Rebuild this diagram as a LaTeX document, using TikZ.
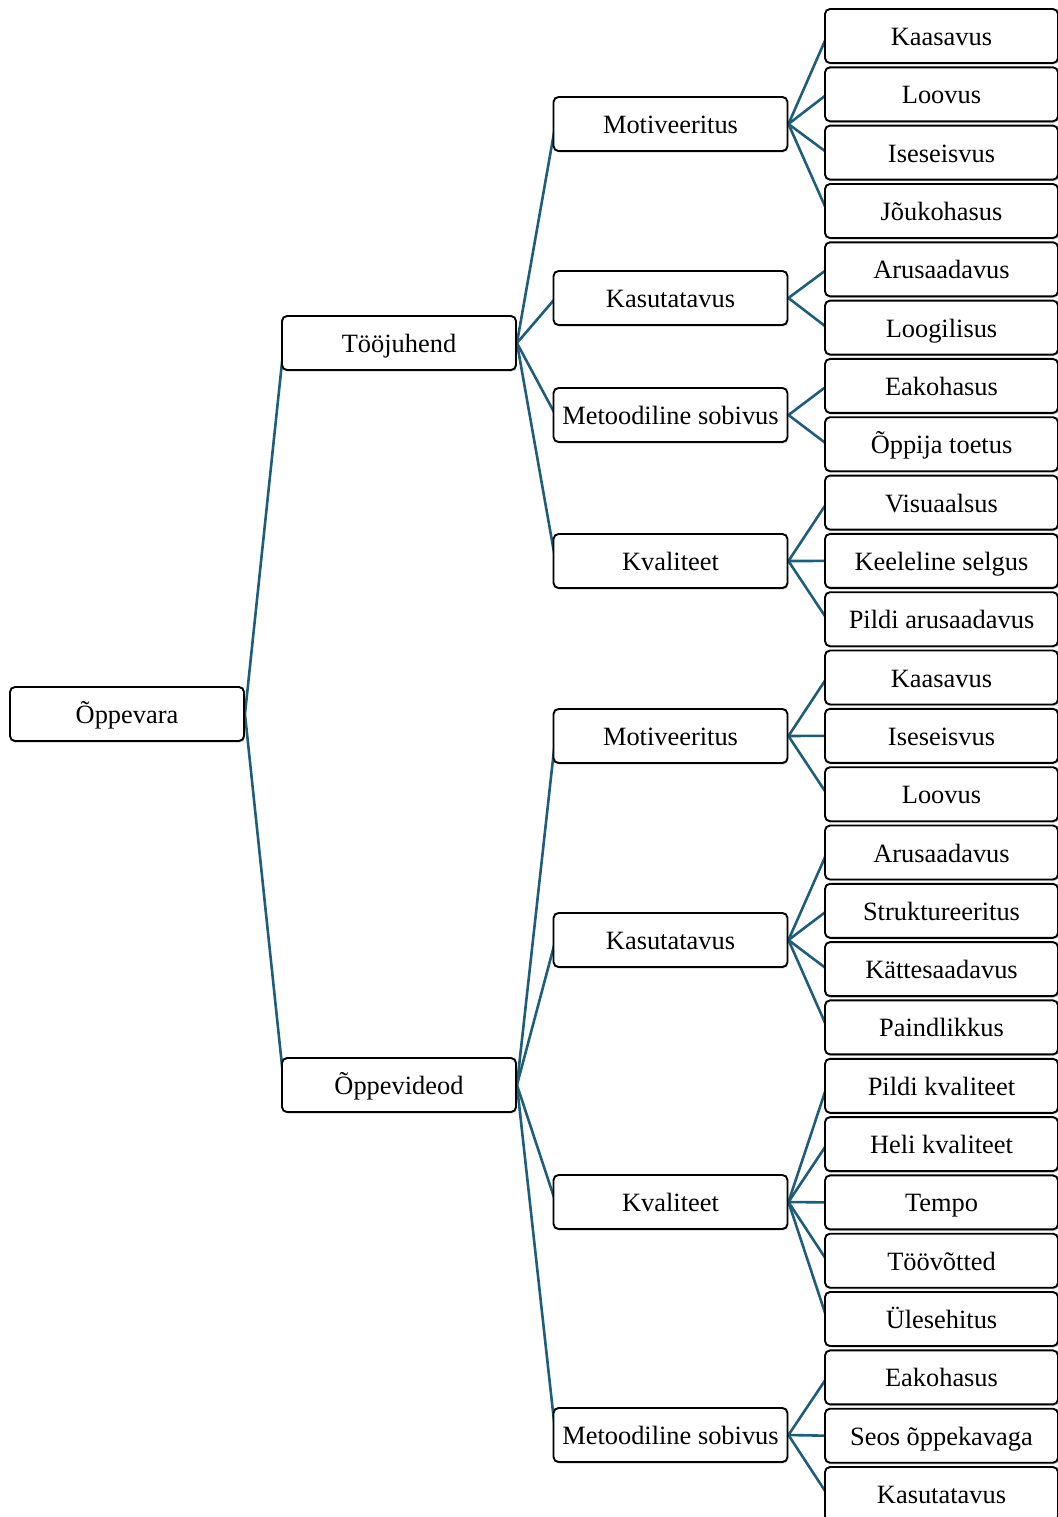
\documentclass[tikz,border=0pt]{standalone}
\usepackage{fontspec}
\setmainfont{Liberation Serif}
\usepackage{xcolor}
\usetikzlibrary{backgrounds,shadows}

\definecolor{linkblue}{RGB}{31,94,122}
\tikzset{
    box/.style={draw, rectangle, rounded corners=2.5pt, line width=0.95pt, fill=white,
        minimum width=117pt, minimum height=27pt, inner sep=1pt,
        text height=11pt, text depth=1.5pt,
        font=\fontsize{13.2}{15}\selectfont,
        drop shadow={shadow xshift=0.4pt, shadow yshift=-0.8pt, opacity=0.35}},
    leaf/.style={box, minimum width=116.5pt},
    link/.style={linkblue, line width=1.3pt}
}

\begin{document}
\begin{tikzpicture}[x=0.5pt, y=-0.5pt]
    \useasboundingbox (0,0) rectangle (1058,1517);

    % Root
    \node[box] (ov) at (127,714) {Õppevara};

    % Level 1
    \node[box] (tj) at (399,343) {Tööjuhend};
    \node[box] (vid) at (399,1085) {Õppevideod};

    % Level 2 - Tööjuhend
    \node[box] (mot1) at (670.5,124) {Motiveeritus};
    \node[box] (kas1) at (670.5,298) {Kasutatavus};
    \node[box] (met1) at (670.5,415) {Metoodiline sobivus};
    \node[box] (kva1) at (670.5,561) {Kvaliteet};

    % Level 2 - Õppevideod
    \node[box] (mot2) at (670.5,736) {Motiveeritus};
    \node[box] (kas2) at (670.5,940) {Kasutatavus};
    \node[box] (kva2) at (670.5,1202) {Kvaliteet};
    \node[box] (met2) at (670.5,1435) {Metoodiline sobivus};

    % Level 3 - Tööjuhend
    \node[leaf] (l0) at (941.5,36) {Kaasavus};
    \node[leaf] (l1) at (941.5,94.3) {Loovus};
    \node[leaf] (l2) at (941.5,152.6) {Iseseisvus};
    \node[leaf] (l3) at (941.5,211) {Jõukohasus};
    \node[leaf] (l4) at (941.5,269.3) {Arusaadavus};
    \node[leaf] (l5) at (941.5,327.6) {Loogilisus};
    \node[leaf] (l6) at (941.5,385.9) {Eakohasus};
    \node[leaf] (l7) at (941.5,444.2) {Õppija toetus};
    \node[leaf] (l8) at (941.5,502.6) {Visuaalsus};
    \node[leaf] (l9) at (941.5,560.9) {Keeleline selgus};
    \node[leaf] (l10) at (941.5,619.2) {Pildi arusaadavus};

    % Level 3 - Õppevideod
    \node[leaf] (l11) at (941.5,677.5) {Kaasavus};
    \node[leaf] (l12) at (941.5,735.8) {Iseseisvus};
    \node[leaf] (l13) at (941.5,794.2) {Loovus};
    \node[leaf] (l14) at (941.5,852.5) {Arusaadavus};
    \node[leaf] (l15) at (941.5,910.8) {Struktureeritus};
    \node[leaf] (l16) at (941.5,969.1) {Kättesaadavus};
    \node[leaf] (l17) at (941.5,1027.4) {Paindlikkus};
    \node[leaf] (l18) at (941.5,1085.8) {Pildi kvaliteet};
    \node[leaf] (l19) at (941.5,1144.1) {Heli kvaliteet};
    \node[leaf] (l20) at (941.5,1202.4) {Tempo};
    \node[leaf] (l21) at (941.5,1260.7) {Töövõtted};
    \node[leaf] (l22) at (941.5,1319) {Ülesehitus};
    \node[leaf] (l23) at (941.5,1377.4) {Eakohasus};
    \node[leaf] (l24) at (941.5,1435.7) {Seos õppekavaga};
    \node[leaf] (l25) at (941.5,1494) {Kasutatavus};

    % Connections
    \begin{scope}[on background layer]
    \draw[link] (ov.east) -- ([xshift=1.5pt]tj.west);
    \draw[link] (ov.east) -- ([xshift=1.5pt]vid.west);

    \draw[link] (tj.east) -- ([xshift=1.5pt]mot1.west);
    \draw[link] (tj.east) -- ([xshift=1.5pt]kas1.west);
    \draw[link] (tj.east) -- ([xshift=1.5pt]met1.west);
    \draw[link] (tj.east) -- ([xshift=1.5pt]kva1.west);

    \draw[link] (vid.east) -- ([xshift=1.5pt]mot2.west);
    \draw[link] (vid.east) -- ([xshift=1.5pt]kas2.west);
    \draw[link] (vid.east) -- ([xshift=1.5pt]kva2.west);
    \draw[link] (vid.east) -- ([xshift=1.5pt]met2.west);

    \draw[link] (mot1.east) -- ([xshift=1.5pt]l0.west);
    \draw[link] (mot1.east) -- ([xshift=1.5pt]l1.west);
    \draw[link] (mot1.east) -- ([xshift=1.5pt]l2.west);
    \draw[link] (mot1.east) -- ([xshift=1.5pt]l3.west);
    \draw[link] (kas1.east) -- ([xshift=1.5pt]l4.west);
    \draw[link] (kas1.east) -- ([xshift=1.5pt]l5.west);
    \draw[link] (met1.east) -- ([xshift=1.5pt]l6.west);
    \draw[link] (met1.east) -- ([xshift=1.5pt]l7.west);
    \draw[link] (kva1.east) -- ([xshift=1.5pt]l8.west);
    \draw[link] (kva1.east) -- ([xshift=1.5pt]l9.west);
    \draw[link] (kva1.east) -- ([xshift=1.5pt]l10.west);

    \draw[link] (mot2.east) -- ([xshift=1.5pt]l11.west);
    \draw[link] (mot2.east) -- ([xshift=1.5pt]l12.west);
    \draw[link] (mot2.east) -- ([xshift=1.5pt]l13.west);
    \draw[link] (kas2.east) -- ([xshift=1.5pt]l14.west);
    \draw[link] (kas2.east) -- ([xshift=1.5pt]l15.west);
    \draw[link] (kas2.east) -- ([xshift=1.5pt]l16.west);
    \draw[link] (kas2.east) -- ([xshift=1.5pt]l17.west);
    \draw[link] (kva2.east) -- ([xshift=1.5pt]l18.west);
    \draw[link] (kva2.east) -- ([xshift=1.5pt]l19.west);
    \draw[link] (kva2.east) -- ([xshift=1.5pt]l20.west);
    \draw[link] (kva2.east) -- ([xshift=1.5pt]l21.west);
    \draw[link] (kva2.east) -- ([xshift=1.5pt]l22.west);
    \draw[link] (met2.east) -- ([xshift=1.5pt]l23.west);
    \draw[link] (met2.east) -- ([xshift=1.5pt]l24.west);
    \draw[link] (met2.east) -- ([xshift=1.5pt]l25.west);
    \end{scope}
\end{tikzpicture}
\end{document}
